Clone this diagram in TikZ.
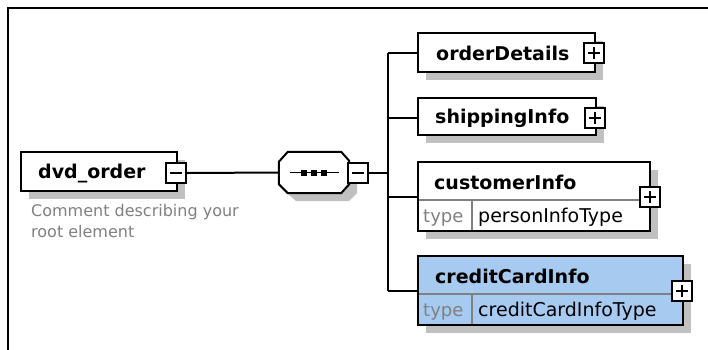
\documentclass[tikz,border=0pt]{standalone}
\usepackage{fontspec}
\setmainfont{DejaVu Sans}
\usetikzlibrary{fit}
\definecolor{shadowgray}{HTML}{C0C0C0}
\definecolor{midgray}{HTML}{808080}
\definecolor{skyblue}{HTML}{A6CAF0}
\tikzset{
  elembox/.style={draw=black, line width=2pt, inner sep=0pt, fill=white},
  togglebox/.style={draw=black, line width=2pt, fill=white, minimum width=20pt, minimum height=20pt, inner sep=0pt},
  conn/.style={line width=2pt, draw=black},
  divider/.style={line width=1.3pt, draw=midgray},
  shade/.style={fill=shadowgray},
  namefont/.style={font=\bfseries\fontsize{19}{22}\selectfont, inner sep=0pt, anchor=base west},
  typefont/.style={font=\fontsize{18}{22}\selectfont, text=midgray, inner sep=0pt, anchor=base west},
  typename/.style={font=\fontsize{19}{22}\selectfont, inner sep=0pt, anchor=base west},
  comment/.style={font=\fontsize{16}{21.5}\selectfont, text=midgray, inner sep=0pt, anchor=north west, align=left},
  signline/.style={line width=1.6pt},
}
\begin{document}
\begin{tikzpicture}[x=1pt,y=-1pt]
\useasboundingbox (0,0) rectangle (708,349);
\fill[white] (0,0) rectangle (708,349);
% frame
\draw[line width=2pt] (709,8) -- (8,8) -- (8,350);

% ---- shadows
\fill[shade] (29,160) rectangle (185,199);
\fill[shade] (287,161) -- (349,161) -- (357,169) -- (357,193) -- (349,201) -- (296,201) -- (287,193) -- cycle;
\fill[shade] (426,41) rectangle (603,80);
\fill[shade] (426,106) rectangle (604,143);
\fill[shade] (426,170) rectangle (658,239);
\fill[shade] (426,264) rectangle (691,333);

% ---- root element
\node[elembox, fit={(21,152)(177,191)}] (dvd) {};
\node[namefont] (dvdt) at (38,178) {dvd\_order};
\node[togglebox] (dvdm) at (176,173) {};
\draw[signline] ([xshift=-6pt]dvdm.center) -- ([xshift=6pt]dvdm.center);
\node[comment] (cmt) at (31,204) {Comment describing your\\root element};

% ---- sequence compositor
\node[inner sep=0pt, fit={(279,152)(349,193)}] (seq) {};
\draw[line width=2pt, fill=white]
  ([xshift=9pt]seq.north west) -- ([xshift=-8pt]seq.north east) -- ([yshift=-9pt]seq.north east)
  -- ([yshift=9pt]seq.south east) -- ([xshift=-8pt]seq.south east) -- ([xshift=9pt]seq.south west)
  -- ([yshift=9pt]seq.south west) -- ([yshift=-10pt]seq.north west) -- cycle;
\draw[signline] ([xshift=11pt]seq.west) -- ([xshift=-10pt]seq.east);
\foreach \dx in {-10,0,10}
  \fill ([xshift=\dx pt]seq.center) ++(-3,-3) rectangle ++(6,6);
\node[togglebox] (seqm) at (358,173) {};
\draw[signline] ([xshift=-6pt]seqm.center) -- ([xshift=6pt]seqm.center);

% ---- children
\node[elembox, fit={(418,33)(595,72)}] (od) {};
\node[namefont] (odt) at (436,60) {orderDetails};
\node[togglebox] (odp) at (594,53) {};

\node[elembox, fit={(418,98)(596,135)}] (si) {};
\node[namefont] (sit) at (435,123) {shippingInfo};
\node[togglebox] (sip) at (595,118) {};

\node[elembox, fit={(418,162)(650,231)}] (ci) {};
\draw[divider] (419,200) -- (649,200);
\draw[divider] (472,200) -- (472,230);
\node[namefont] (cit) at (434,189) {customerInfo};
\node[typefont] (cityp) at (423,222) {type};
\node[typename] (citn) at (478,222) {personInfoType};
\node[togglebox] (cip) at (650,197) {};

\node[elembox, fill=skyblue, fit={(418,256)(683,325)}] (cc) {};
\draw[divider] (419,294) -- (682,294);
\draw[divider] (472,294) -- (472,324);
\node[namefont] (cct) at (435,283) {creditCardInfo};
\node[typefont] (cctyp) at (423,316) {type};
\node[typename] (cctn) at (478,316) {creditCardInfoType};
\node[togglebox] (ccp) at (682,291) {};

% plus signs
\foreach \p in {odp,sip,cip,ccp} {
  \draw[signline] ([xshift=-6pt]\p.center) -- ([xshift=6pt]\p.center);
  \draw[signline] ([yshift=-6pt]\p.center) -- ([yshift=6pt]\p.center);
}

% ---- connectors
\coordinate (bar) at (388,0);
\draw[conn] (dvdm.east) -- (seq.west);
\draw[conn] (seqm.east) -- (bar |- seqm.east);
\draw[conn] (bar |- odp) -- (bar |- ccp);
\draw[conn] (bar |- odp) -- (od.west |- odp);
\draw[conn] (bar |- sip) -- (si.west |- sip);
\draw[conn] (bar |- cip) -- (ci.west |- cip);
\draw[conn] (bar |- ccp) -- (cc.west |- ccp);
\end{tikzpicture}
\end{document}
